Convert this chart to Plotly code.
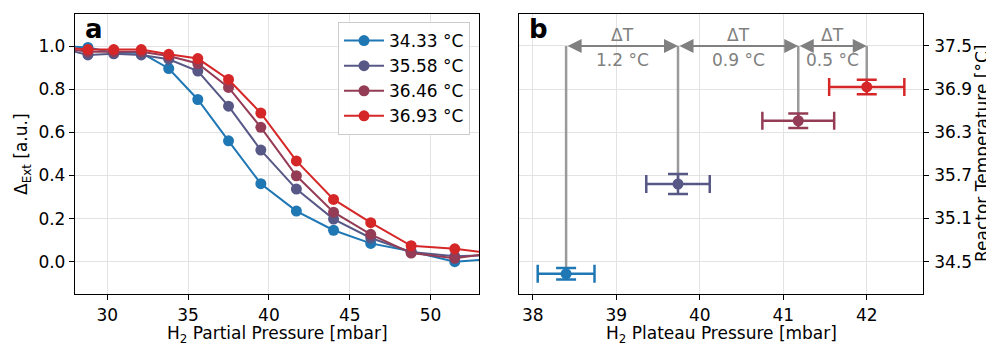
import plotly.graph_objects as go

# ---------------- data ----------------
pressure = [27.2, 28.8, 30.4, 32.1, 33.8, 35.6, 37.5, 39.5, 41.7, 44.0, 46.3, 48.8, 51.5, 54.3]
ext_3433 = [1.00, 0.995, 0.97, 0.97, 0.897, 0.753, 0.561, 0.362, 0.235, 0.146, 0.085, 0.048, 0.000, 0.015]
ext_3558 = [0.99, 0.960, 0.965, 0.960, 0.940, 0.885, 0.722, 0.518, 0.337, 0.198, 0.110, 0.045, 0.025, 0.032]
ext_3646 = [0.99, 0.975, 0.975, 0.975, 0.955, 0.920, 0.809, 0.624, 0.399, 0.230, 0.127, 0.040, 0.016, 0.045]
ext_3693 = [0.995, 0.985, 0.985, 0.985, 0.963, 0.943, 0.846, 0.690, 0.468, 0.289, 0.181, 0.074, 0.060, 0.034]
series_labels = ["34.33 °C", "35.58 °C", "36.46 °C", "36.93 °C"]
colors = ["#1f77b4", "#585887", "#943c56", "#d62728"]

plateau_p = [38.40, 39.74, 41.18, 42.00]
plateau_p_err = [0.34, 0.38, 0.43, 0.45]
reactor_T = [34.33, 35.58, 36.46, 36.93]
reactor_T_err = [0.08, 0.14, 0.10, 0.10]
delta_labels = ["1.2 °C", "0.9 °C", "0.5 °C"]
arrow_T = 37.5

left_xticks = [30, 35, 40, 45, 50]
left_yticks = [0.0, 0.2, 0.4, 0.6, 0.8, 1.0]
right_xticks = [38, 39, 40, 41, 42]
right_yticks = [34.5, 35.1, 35.7, 36.3, 36.9, 37.5]

FONT = "DejaVu Sans"
GREY = "#808080"
FS = 17
# page body has an 8px margin; size the figure so it fills the window exactly
OFF = 8
W, H = 994 - OFF, 345 - OFF


def px_x(p):
    return (p - OFF) / W


def px_y(p):
    return 1 - (p - OFF) / H


fig = go.Figure()

# ---- panel a ----
for vals, lab, col in zip([ext_3433, ext_3558, ext_3646, ext_3693], series_labels, colors):
    fig.add_trace(go.Scatter(
        x=pressure, y=vals, name=lab, mode="lines+markers",
        line=dict(color=col, width=2), marker=dict(color=col, size=11),
        xaxis="x", yaxis="y", cliponaxis=True))

# ---- panel b: grey vertical guides ----
for p, t in zip(plateau_p, reactor_T):
    fig.add_trace(go.Scatter(
        x=[p, p], y=[t, arrow_T], mode="lines", showlegend=False,
        line=dict(color="#9a9a9a", width=2.5), xaxis="x2", yaxis="y2", hoverinfo="skip"))

for p, pe, t, te, col in zip(plateau_p, plateau_p_err, reactor_T, reactor_T_err, colors):
    fig.add_trace(go.Scatter(
        x=[p], y=[t], mode="markers", showlegend=False,
        marker=dict(color=col, size=11),
        error_x=dict(type="data", array=[pe], color=col, thickness=2.5, width=9),
        error_y=dict(type="data", array=[te], color=col, thickness=2.5, width=10),
        xaxis="x2", yaxis="y2"))

annotations = []
for i in range(len(plateau_p) - 1):
    x0, x1 = plateau_p[i], plateau_p[i + 1]
    annotations.append(dict(
        x=x1, y=arrow_T, ax=x0, ay=arrow_T, xref="x2", yref="y2", axref="x2", ayref="y2",
        showarrow=True, arrowside="end+start", arrowhead=2, startarrowhead=2,
        arrowsize=1.4, startarrowsize=1.4, arrowwidth=2, arrowcolor=GREY, text=""))
    xm = (x0 + x1) / 2
    annotations.append(dict(x=xm, y=arrow_T, xref="x2", yref="y2", text="ΔT",
                            showarrow=False, yshift=11, font=dict(family=FONT, size=FS, color=GREY)))
    annotations.append(dict(x=xm, y=arrow_T, xref="x2", yref="y2", text=delta_labels[i],
                            showarrow=False, yshift=-14, font=dict(family=FONT, size=FS, color=GREY)))

# panel letters
annotations.append(dict(x=px_x(75), y=px_y(14), xref="paper", yref="paper", text="<b>a</b>",
                        showarrow=False, xanchor="left", yanchor="top", xshift=8, yshift=2,
                        font=dict(family=FONT, size=26, color="black")))
annotations.append(dict(x=px_x(519), y=px_y(14), xref="paper", yref="paper", text="<b>b</b>",
                        showarrow=False, xanchor="left", yanchor="top", xshift=8, yshift=2,
                        font=dict(family=FONT, size=26, color="black")))

# axis titles (placed as paper annotations for exact positioning)
title_font = dict(family=FONT, size=FS, color="black")
annotations.append(dict(x=px_x(277.5), y=px_y(321), xref="paper", yref="paper",
                        text="H<sub>2</sub> Partial Pressure [mbar]", showarrow=False,
                        xanchor="center", yanchor="top", font=title_font))
annotations.append(dict(x=px_x(721.5), y=px_y(321), xref="paper", yref="paper",
                        text="H<sub>2</sub> Plateau Pressure [mbar]", showarrow=False,
                        xanchor="center", yanchor="top", font=title_font))
annotations.append(dict(x=px_x(22), y=px_y(154), xref="paper", yref="paper",
                        text="Δ<sub>Ext</sub> [a.u.]", showarrow=False, textangle=-90,
                        xanchor="center", yanchor="middle", font=title_font))
annotations.append(dict(x=px_x(982), y=px_y(154), xref="paper", yref="paper",
                        text="Reactor Temperature [°C]", showarrow=False, textangle=-90,
                        xanchor="center", yanchor="middle", font=title_font))

axis_common = dict(showline=True, mirror=True, linecolor="black", linewidth=1.3,
                   ticks="outside", ticklen=5, tickwidth=1.2, tickcolor="black",
                   showgrid=True, gridcolor="#e3e3e3", gridwidth=1, zeroline=False,
                   automargin=False, tickfont=dict(family=FONT, size=FS, color="black"))

fig.update_layout(
    width=W, height=H, margin=dict(l=0, r=0, t=0, b=0),
    paper_bgcolor="white", plot_bgcolor="white",
    font=dict(family=FONT, size=FS, color="black"),
    xaxis=dict(domain=[px_x(75), px_x(479)], range=[28, 53], tickvals=left_xticks,
               anchor="y", **axis_common),
    yaxis=dict(domain=[px_y(294), px_y(14)], range=[-0.15, 1.15], tickvals=left_yticks,
               tickformat=".1f", anchor="x", **axis_common),
    xaxis2=dict(domain=[px_x(519), px_x(922.7)], range=[37.836, 42.67], tickvals=right_xticks,
                anchor="y2", **axis_common),
    yaxis2=dict(domain=[px_y(294), px_y(14)], range=[34.05, 37.945], tickvals=right_yticks,
                tickformat=".1f", side="right", ticklabelstandoff=2,
                anchor="x2", **axis_common),
    legend=dict(x=px_x(470), y=px_y(22), xanchor="right", yanchor="top",
                bgcolor="rgba(255,255,255,0.9)", bordercolor="#cccccc", borderwidth=1,
                itemwidth=40,
                font=dict(family=FONT, size=FS, color="black"), tracegroupgap=0),
    annotations=annotations,
    showlegend=True,
)

fig.write_html("out.html")
